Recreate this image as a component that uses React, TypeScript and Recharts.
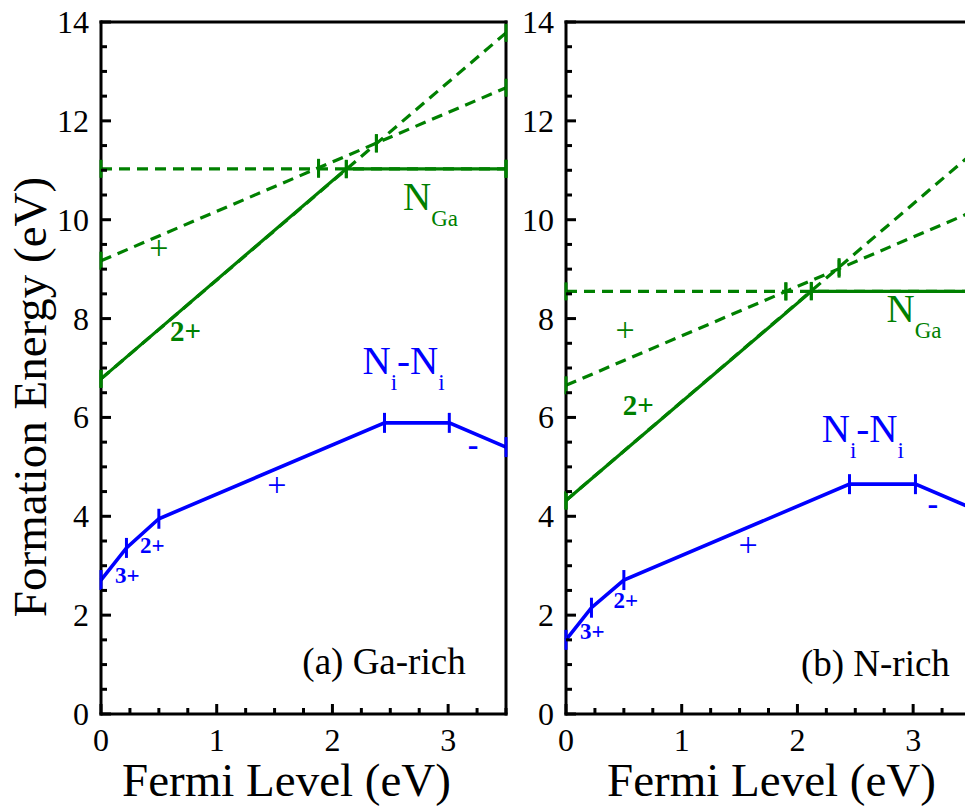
import React from 'react';
import { LineChart, Line, XAxis, YAxis, ReferenceDot } from 'recharts';

// ---------- axes ----------
const xTicks = [0, 0.25, 0.5, 0.75, 1, 1.25, 1.5, 1.75, 2, 2.25, 2.5, 2.75, 3, 3.25, 3.5];
const yTicks = [0, 0.5, 1, 1.5, 2, 2.5, 3, 3.5, 4, 4.5, 5, 5.5, 6, 6.5, 7, 7.5, 8, 8.5, 9, 9.5, 10, 10.5, 11, 11.5, 12, 12.5, 13, 13.5, 14];
const xLabelValues = [0, 1, 2, 3];
const yLabelValues = [0, 2, 4, 6, 8, 10, 12, 14];
const xDomain: [number, number] = [0, 3.5];
const yDomain: [number, number] = [0, 14];
const xTitle = 'Fermi Level (eV)';
const yTitle = 'Formation Energy (eV)';

// ---------- panel (a) Ga-rich ----------
const gaNGaSolid = [{ x: 0, y: 6.78 }, { x: 2.12, y: 11.03 }, { x: 3.5, y: 11.03 }];
const gaNGaNeutral = [{ x: 0, y: 11.03 }, { x: 1.88, y: 11.03 }, { x: 3.5, y: 11.03 }];
const gaNGaPlus = [{ x: 0, y: 9.17 }, { x: 1.88, y: 11.05 }, { x: 2.38, y: 11.55 }, { x: 3.5, y: 12.67 }];
const gaNGa2Plus = [{ x: 0, y: 6.78 }, { x: 2.12, y: 11.02 }, { x: 2.38, y: 11.54 }, { x: 3.5, y: 13.78 }];
const gaNiNi = [{ x: 0, y: 2.71 }, { x: 0.22, y: 3.36 }, { x: 0.5, y: 3.95 }, { x: 2.45, y: 5.89 }, { x: 3.01, y: 5.89 }, { x: 3.5, y: 5.4 }];

// ---------- panel (b) N-rich ----------
const nNGaSolid = [{ x: 0, y: 4.32 }, { x: 2.12, y: 8.55 }, { x: 3.5, y: 8.55 }];
const nNGaNeutral = [{ x: 0, y: 8.55 }, { x: 1.9, y: 8.55 }, { x: 3.5, y: 8.55 }];
const nNGaPlus = [{ x: 0, y: 6.65 }, { x: 1.9, y: 8.55 }, { x: 2.36, y: 9.01 }, { x: 3.5, y: 10.15 }];
const nNGa2Plus = [{ x: 0, y: 4.32 }, { x: 2.12, y: 8.56 }, { x: 2.36, y: 9.04 }, { x: 3.5, y: 11.32 }];
const nNiNi = [{ x: 0, y: 1.5 }, { x: 0.22, y: 2.15 }, { x: 0.5, y: 2.71 }, { x: 2.45, y: 4.65 }, { x: 3.02, y: 4.65 }, { x: 3.5, y: 4.17 }];

type Part = { t: string; sub?: boolean };
type Note = { x: number; y: number; parts: Part[]; defect: 'NGa' | 'NiNi' | 'none'; kind: 'name' | 'sign' | 'signBold' | 'charge' | 'chargeSmall' | 'panel' };

const NGA: Part[] = [{ t: 'N' }, { t: 'Ga', sub: true }];
const NINI: Part[] = [{ t: 'N' }, { t: 'i', sub: true }, { t: '-' }, { t: 'N' }, { t: 'i', sub: true }];

const gaNotes: Note[] = [
  { x: 2.61, y: 10.2, parts: NGA, defect: 'NGa', kind: 'name' },
  { x: 0.5, y: 9.21, parts: [{ t: '+' }], defect: 'NGa', kind: 'sign' },
  { x: 0.596, y: 7.55, parts: [{ t: '2+' }], defect: 'NGa', kind: 'charge' },
  { x: 2.26, y: 6.88, parts: NINI, defect: 'NiNi', kind: 'name' },
  { x: 1.52, y: 4.42, parts: [{ t: '+' }], defect: 'NiNi', kind: 'sign' },
  { x: 3.215, y: 5.23, parts: [{ t: '-' }], defect: 'NiNi', kind: 'signBold' },
  { x: 0.337, y: 3.25, parts: [{ t: '2+' }], defect: 'NiNi', kind: 'chargeSmall' },
  { x: 0.121, y: 2.66, parts: [{ t: '3+' }], defect: 'NiNi', kind: 'chargeSmall' },
  { x: 1.74, y: 0.8, parts: [{ t: '(a) Ga-rich' }], defect: 'none', kind: 'panel' },
];

const nNotes: Note[] = [
  { x: 2.77, y: 7.94, parts: NGA, defect: 'NGa', kind: 'name' },
  { x: 0.51, y: 7.55, parts: [{ t: '+' }], defect: 'NGa', kind: 'sign' },
  { x: 0.49, y: 6.05, parts: [{ t: '2+' }], defect: 'NGa', kind: 'charge' },
  { x: 2.21, y: 5.51, parts: NINI, defect: 'NiNi', kind: 'name' },
  { x: 1.573, y: 3.19, parts: [{ t: '+' }], defect: 'NiNi', kind: 'sign' },
  { x: 3.17, y: 4.05, parts: [{ t: '-' }], defect: 'NiNi', kind: 'signBold' },
  { x: 0.41, y: 2.14, parts: [{ t: '2+' }], defect: 'NiNi', kind: 'chargeSmall' },
  { x: 0.12, y: 1.52, parts: [{ t: '3+' }], defect: 'NiNi', kind: 'chargeSmall' },
  { x: 2.03, y: 0.76, parts: [{ t: '(b) N-rich' }], defect: 'none', kind: 'panel' },
];

// ---------- styles ----------
const SERIF = "'Liberation Serif', 'Times New Roman', Times, serif";
const GREEN = '#008000';
const BLUE = '#0000ff';
const AXIS = { stroke: '#000', strokeWidth: 3, strokeLinecap: 'square' as const };
const COLORS = { NGa: GREEN, NiNi: BLUE, none: '#000' };
const KINDS: Record<string, { size: number; bold: boolean; anchor: 'start' | 'middle' }> = {
  name: { size: 39, bold: false, anchor: 'start' },
  sign: { size: 34, bold: false, anchor: 'middle' },
  signBold: { size: 32, bold: true, anchor: 'middle' },
  charge: { size: 29, bold: true, anchor: 'start' },
  chargeSmall: { size: 23, bold: true, anchor: 'start' },
  panel: { size: 37, bold: false, anchor: 'start' },
};

const CHART_W = 540;
const CHART_H = 809;

function makeTick(side: 'bottom' | 'top' | 'left' | 'right') {
  return (props: any) => {
    const { x, y, payload } = props;
    const v = payload.value;
    if (side === 'bottom' || side === 'top') {
      const major = xLabelValues.includes(v);
      const len = major ? 10 : 6;
      const dir = side === 'bottom' ? -1 : 1;
      return (
        <g>
          <line x1={x} x2={x} y1={y} y2={y + dir * len} stroke="#000" strokeWidth={3} />
          {side === 'bottom' && major ? (
            <text x={x} y={y + 37} textAnchor="middle" fontSize={32} fontFamily={SERIF} fill="#000">
              {v}
            </text>
          ) : null}
        </g>
      );
    }
    const major = yLabelValues.includes(v);
    const len = major ? 10 : 6;
    const dir = side === 'left' ? 1 : -1;
    return (
      <g>
        <line x1={x} x2={x + dir * len} y1={y} y2={y} stroke="#000" strokeWidth={3} />
        {side === 'left' && major ? (
          <text x={x - 12} y={y + 11} textAnchor="end" fontSize={32} fontFamily={SERIF} fill="#000">
            {v}
          </text>
        ) : null}
      </g>
    );
  };
}

const bottomTick = makeTick('bottom');
const topTick = makeTick('top');
const leftTick = makeTick('left');
const rightTick = makeTick('right');

const barDot = (half: number, color: string) => (props: any) => {
  const { cx, cy, index } = props;
  if (cx == null || cy == null) return <g key={`e${index}`} />;
  return <line key={`d${index}`} x1={cx} x2={cx} y1={cy - half} y2={cy + half} stroke={color} strokeWidth={3} />;
};

function NoteText({ cx, cy, note }: { cx: number; cy: number; note: Note }) {
  const k = KINDS[note.kind];
  const subShift = 16;
  let shifted = false;
  return (
    <text
      x={cx}
      y={cy}
      fill={COLORS[note.defect]}
      fontSize={k.size}
      fontWeight={k.bold ? 'bold' : 'normal'}
      fontFamily={SERIF}
      textAnchor={k.anchor}
    >
      {note.parts.map((p, i) => {
        let dy = 0;
        if (p.sub && !shifted) { dy = subShift; shifted = true; }
        else if (!p.sub && shifted) { dy = -subShift; shifted = false; }
        return (
          <tspan key={i} dy={dy} fontSize={p.sub ? 23 : k.size}>
            {p.t}
          </tspan>
        );
      })}
    </text>
  );
}

type PanelProps = {
  left: number;
  solid: { x: number; y: number }[];
  neutral: { x: number; y: number }[];
  plus: { x: number; y: number }[];
  twoPlus: { x: number; y: number }[];
  nini: { x: number; y: number }[];
  notes: Note[];
  showYTitle: boolean;
  xTitleDx: number;
};

function Panel(p: PanelProps) {
  const renderXTitle = (props: any) => {
    const vb = props.viewBox || { x: 101, y: 714, width: 405, height: 95 };
    return (
      <text x={vb.x + vb.width / 2 + p.xTitleDx} y={vb.y + 82} textAnchor="middle" fontSize={47} fontFamily={SERIF} fill="#000">
        {xTitle}
      </text>
    );
  };
  const renderYTitle = (props: any) => {
    if (!p.showYTitle) return <g />;
    const vb = props.viewBox || { x: 0, y: 22, width: 101, height: 692 };
    const cx = vb.x + 46;
    const cy = vb.y + vb.height / 2 + 29;
    return (
      <text transform={`translate(${cx},${cy}) rotate(-90)`} textAnchor="middle" fontSize={47} fontFamily={SERIF} fill="#000">
        {yTitle}
      </text>
    );
  };
  const dashed = { type: 'linear' as const, stroke: GREEN, strokeWidth: 3.2, strokeDasharray: '11 7', activeDot: false, isAnimationActive: false, dataKey: 'y', xAxisId: 'b', yAxisId: 'l' };
  return (
    <div style={{ position: 'absolute', left: p.left, top: 0 }}>
      <LineChart width={CHART_W} height={CHART_H} margin={{ top: 21, right: 33, bottom: 0, left: 0 }}>
        <XAxis xAxisId="b" type="number" dataKey="x" domain={xDomain} ticks={xTicks} interval={0} tickSize={0} tickMargin={0} tickLine={false} height={95} axisLine={AXIS} tick={bottomTick} label={{ value: xTitle, content: renderXTitle }} />
        <XAxis xAxisId="t" orientation="top" type="number" dataKey="x" domain={xDomain} ticks={xTicks} interval={0} tickSize={0} tickMargin={0} tickLine={false} height={1} axisLine={AXIS} tick={topTick} />
        <YAxis yAxisId="l" type="number" domain={yDomain} ticks={yTicks} interval={0} tickSize={0} tickMargin={0} tickLine={false} width={101} axisLine={AXIS} tick={leftTick} label={{ value: yTitle, content: renderYTitle }} />
        <YAxis yAxisId="r" orientation="right" type="number" domain={yDomain} ticks={yTicks} interval={0} tickSize={0} tickMargin={0} tickLine={false} width={1} axisLine={AXIS} tick={rightTick} />
        <Line {...dashed} data={p.neutral} dot={barDot(9, GREEN)} />
        <Line {...dashed} data={p.plus} dot={barDot(9, GREEN)} />
        <Line {...dashed} data={p.twoPlus} dot={barDot(9, GREEN)} />
        <Line xAxisId="b" yAxisId="l" data={p.solid} dataKey="y" type="linear" stroke={GREEN} strokeWidth={3.2} dot={barDot(9, GREEN)} activeDot={false} isAnimationActive={false} />
        <Line xAxisId="b" yAxisId="l" data={p.nini} dataKey="y" type="linear" stroke={BLUE} strokeWidth={3.6} dot={barDot(10, BLUE)} activeDot={false} isAnimationActive={false} />
        {p.notes.map((n, i) => (
          <ReferenceDot
            key={i}
            xAxisId="b"
            yAxisId="l"
            x={n.x}
            y={n.y}
            r={0}
            shape={(sp: any) => <NoteText cx={sp.cx} cy={sp.cy} note={n} />}
          />
        ))}
      </LineChart>
    </div>
  );
}

export default function App() {
  return (
    <div style={{ position: 'absolute', left: 0, top: 0, width: 965, height: 809, overflow: 'hidden', background: '#fff' }}>
      <Panel left={0} solid={gaNGaSolid} neutral={gaNGaNeutral} plus={gaNGaPlus} twoPlus={gaNGa2Plus} nini={gaNiNi} notes={gaNotes} showYTitle={true} xTitleDx={-17} />
      <Panel left={465} solid={nNGaSolid} neutral={nNGaNeutral} plus={nNGaPlus} twoPlus={nNGa2Plus} nini={nNiNi} notes={nNotes} showYTitle={false} xTitleDx={3} />
    </div>
  );
}
